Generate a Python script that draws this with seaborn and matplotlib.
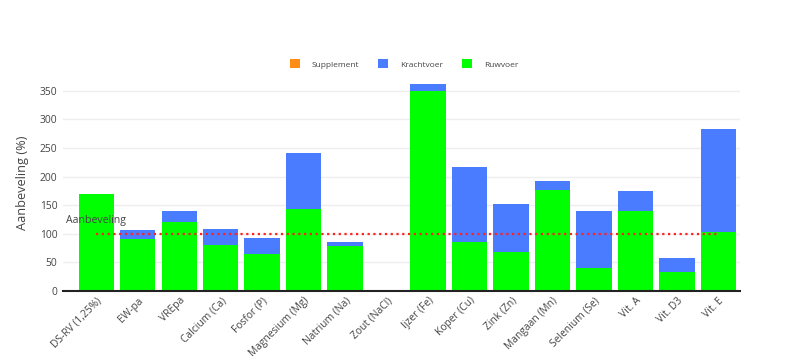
import matplotlib
matplotlib.use("Agg")
import matplotlib.pyplot as plt
import seaborn as sns
import pandas as pd
import numpy as np
from matplotlib.patches import Patch

categories = ["DS-RV (1,25%)", "EW-pa", "VREpa", "Calcium (Ca)", "Fosfor (P)",
              "Magnesium (Mg)", "Natrium (Na)", "Zout (NaCl)", "IJzer (Fe)",
              "Koper (Cu)", "Zink (Zn)", "Mangaan (Mn)", "Selenium (Se)",
              "Vit. A", "Vit. D3", "Vit. E"]
tick_labels = ["DS-RV (1,25%)", "EW-pa", "VREpa", "Calcium (Ca)", "Fosfor (P)",
               "Magnesium (Mg)", "Natrium (Na)", "Zout (NaCl)", "Ijzer (Fe)",
               "Koper (Cu)", "Zink (Zn)", "Mangaan (Mn)", "Selenium (Se)",
               "Vit. A", "Vit. D3", "Vit. E"]
ruwvoer = [170, 91, 121, 81, 65, 144, 79, 0, 349, 85, 69, 177, 41, 140, 34, 103]
krachtvoer = [0, 15, 19, 27, 28, 97, 6, 0, 13, 132, 83, 16, 99, 34, 23, 180]
supplement = [0] * 16
aanbeveling = [100] * 16

df = pd.DataFrame({"cat": categories, "ruw": ruwvoer, "kracht": krachtvoer,
                   "supp": supplement, "ref": aanbeveling})
df["rk"] = df["ruw"] + df["kracht"]
df["tot"] = df["rk"] + df["supp"]

plt.rcParams["font.family"] = ["Open Sans", "DejaVu Sans"]
fig = plt.figure(figsize=(8, 3.62), dpi=100)
ax = fig.add_axes([63 / 800, 1 - 291 / 362, (740 - 63) / 800, (291 - 73.5) / 362])

c_supp = "#FF8C14"
c_kracht = "#4A7CFF"
c_ruw = "#00FF00"
w = 0.85
sns.barplot(data=df, x="cat", y="tot", color=c_supp, saturation=1, width=w, ax=ax, zorder=2)
sns.barplot(data=df, x="cat", y="rk", color=c_kracht, saturation=1, width=w, ax=ax, zorder=3)
sns.barplot(data=df, x="cat", y="ruw", color=c_ruw, saturation=1, width=w, ax=ax, zorder=4)

xpos = np.arange(len(categories))
ax.plot(xpos, df["ref"], color="#FF2020", linestyle=(0, (1, 1.6)), linewidth=1.6, zorder=5)
ax.annotate("Aanbeveling", xy=(0, aanbeveling[0]), xytext=(0, 9.5), textcoords="offset points",
            ha="center", va="center", fontsize=7.6, color="#444444", zorder=6)

ax.set_xlim(-0.8, 15.52)
ax.set_ylim(0, 380)
ax.set_yticks([0, 50, 100, 150, 200, 250, 300, 350])
ax.set_xticks(xpos)
ax.set_xticklabels(tick_labels, rotation=45, ha="right", rotation_mode="anchor",
                   fontsize=7.4, color="#444444")
ax.tick_params(axis="y", labelsize=7.4, labelcolor="#444444", length=0, pad=4)
ax.tick_params(axis="x", length=0, pad=3)
ax.set_xlabel("")
ax.set_ylabel("Aanbeveling (%)", fontsize=9.2, color="#444444", labelpad=8)
ax.grid(axis="y", color="#EEEEEE", linewidth=1, zorder=0)
ax.set_axisbelow(True)
for s in ["top", "right", "left"]:
    ax.spines[s].set_visible(False)
ax.spines["bottom"].set_color("#222222")
ax.spines["bottom"].set_linewidth(1.5)
ax.spines["bottom"].set_zorder(7)

handles = [Patch(facecolor=c_supp, label="Supplement"),
           Patch(facecolor=c_kracht, label="Krachtvoer"),
           Patch(facecolor=c_ruw, label="Ruwvoer")]
fig.legend(handles=handles, loc="center", bbox_to_anchor=(404 / 800, 1 - 64 / 362), ncol=3,
           frameon=False, fontsize=6.0, labelcolor="#444444", handlelength=1.2,
           handleheight=1.2, handletextpad=1.4, columnspacing=2.3)

fig.savefig("out.png", dpi=100)
